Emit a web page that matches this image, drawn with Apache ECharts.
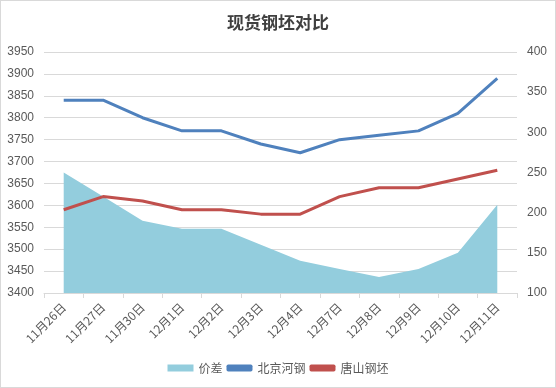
<!DOCTYPE html>
<html><head><meta charset="utf-8">
<script src="https://cdn.jsdelivr.net/npm/echarts@6/dist/echarts.min.js"></script>
<style>html,body{margin:0;padding:0;background:#fff}#c{width:556px;height:388px;box-sizing:border-box;border:1px solid #d9d9d9}</style>
</head><body><div id="c"></div>
<script>
const categories = ['11月26日','11月27日','11月30日','12月1日','12月2日','12月3日','12月4日','12月7日','12月8日','12月9日','12月10日','12月11日'];
const beijing = [3840,3840,3800,3770,3770,3740,3720,3750,3760,3770,3810,3890];
const tangshan = [3590,3620,3610,3590,3590,3580,3580,3620,3640,3640,3660,3680];
const diff = [250,220,190,180,180,160,140,130,120,130,150,210];
const chart = echarts.init(document.getElementById('c'));
const txt = '#595959';
chart.setOption({
  animation:false,
  title:{text:'现货钢坯对比',left:'center',top:8,textStyle:{fontFamily:'Noto Sans CJK SC',fontSize:17,fontWeight:'bold',color:'#404040'}},
  legend:{bottom:8,itemGap:4,itemWidth:26,itemHeight:7,textStyle:{color:txt,fontSize:12,fontFamily:'Noto Sans CJK SC'},
    data:[{name:'价差',icon:'rect'},{name:'北京河钢',icon:'roundRect'},{name:'唐山钢坯',icon:'roundRect'}]},
  grid:{left:43,right:38,top:51,bottom:94},
  xAxis:{type:'category',data:categories,boundaryGap:true,
    axisLine:{lineStyle:{color:'#d9d9d9'}},axisTick:{show:true,length:5,lineStyle:{color:'#d9d9d9'}},
    axisLabel:{rotate:45,color:txt,fontSize:12,interval:0,margin:12,fontFamily:'Noto Sans CJK SC'}},
  yAxis:[
    {type:'value',min:3400,max:3950,interval:50,axisLine:{show:false},axisTick:{show:false},
      axisLabel:{color:txt,fontSize:12,margin:10,formatter:v=>String(v)},splitLine:{lineStyle:{color:'#d9d9d9'}}},
    {type:'value',min:100,max:400,interval:50,axisLine:{show:false},axisTick:{show:false},
      axisLabel:{color:txt,fontSize:12,margin:10},splitLine:{show:false}}
  ],
  series:[
    {name:'价差',type:'line',yAxisIndex:1,data:diff,symbol:'none',lineStyle:{width:0},itemStyle:{color:'#93cddd'},
      areaStyle:{color:'#93cddd',opacity:1},z:1},
    {name:'北京河钢',type:'line',data:beijing,symbol:'none',lineStyle:{width:3,color:'#4f81bd'},itemStyle:{color:'#4f81bd'},z:3},
    {name:'唐山钢坯',type:'line',data:tangshan,symbol:'none',lineStyle:{width:3,color:'#c0504d'},itemStyle:{color:'#c0504d'},z:3}
  ]
});
</script></body></html>
